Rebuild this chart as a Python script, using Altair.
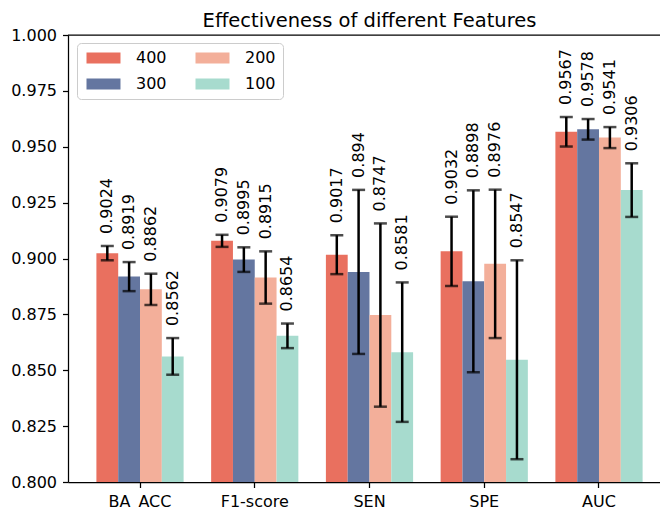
import altair as alt
import pandas as pd

metrics = ["BA_ACC", "F1-score", "SEN", "SPE", "AUC"]
groups = ["400", "300", "200", "100"]
colors = ["#E9705F", "#6476A0", "#F3AF9A", "#A7DBCE"]

values_400 = [0.9024, 0.9079, 0.9017, 0.9032, 0.9567]
values_300 = [0.8919, 0.8995, 0.894, 0.8898, 0.9578]
values_200 = [0.8862, 0.8915, 0.8747, 0.8976, 0.9541]
values_100 = [0.8562, 0.8654, 0.8581, 0.8547, 0.9306]

err_400 = [0.0032, 0.0027, 0.0087, 0.0155, 0.0066]
err_300 = [0.0065, 0.0055, 0.0367, 0.0407, 0.0046]
err_200 = [0.0070, 0.0117, 0.0410, 0.0332, 0.0047]
err_100 = [0.0082, 0.0055, 0.0312, 0.0445, 0.0120]

y_ticks = [0.8, 0.825, 0.85, 0.875, 0.9, 0.925, 0.95, 0.975, 1.0]
Y_MIN, Y_MAX = 0.8, 1.0

series = {"400": (values_400, err_400), "300": (values_300, err_300),
          "200": (values_200, err_200), "100": (values_100, err_100)}
rows = []
for g in groups:
    vals, errs = series[g]
    for m, v, e in zip(metrics, vals, errs):
        rows.append({"metric": m, "group": g, "value": v, "lo": v - e, "hi": v + e, "label": str(v)})
df = pd.DataFrame(rows)

FONT = "DejaVu Sans"
FS = 16

base = alt.Chart(df).encode(
    x=alt.X("metric:N", sort=metrics, title=None,
            scale=alt.Scale(paddingInner=0.24, paddingOuter=0.2475),
            axis=alt.Axis(labelAngle=0, labelFont=FONT, labelFontSize=FS, labelColor="black",
                          tickSize=5.5, tickWidth=1.25, tickColor="black", domainColor="black",
                          domainWidth=1.25, labelPadding=6, grid=False)),
    xOffset=alt.XOffset("group:N", sort=groups, scale=alt.Scale(domain=groups, paddingInner=0, paddingOuter=0)),
)

yscale = alt.Scale(domain=[Y_MIN, Y_MAX], zero=False, nice=False)

bars = base.mark_bar(clip=True).encode(
    y=alt.Y("value:Q", scale=yscale, title=None,
            axis=alt.Axis(values=y_ticks, format=".3f", labelFont=FONT, labelFontSize=FS,
                          labelColor="black", tickSize=5.5, tickWidth=1.25, tickColor="black",
                          domainColor="black", domainWidth=1.25, labelPadding=6, grid=False)),
    color=alt.Color("group:N", scale=alt.Scale(domain=groups, range=colors),
                    legend=alt.Legend(title=None, orient="none", legendX=9, legendY=8, columns=2,
                                      symbolType="M-1,-1H5.18V1H-1Z", symbolSize=121,
                                      symbolStrokeWidth=0, labelFont=FONT, labelFontSize=FS,
                                      labelColor="black", labelOffset=36, columnPadding=26,
                                      rowPadding=10, padding=7, strokeColor="#cccccc",
                                      cornerRadius=4, fillColor="white")),
)

rules = base.mark_rule(color="black", strokeWidth=2.5).encode(y="lo:Q", y2="hi:Q")
caps_lo = base.mark_tick(color="black", thickness=2.5, size=13).encode(y="lo:Q")
caps_hi = base.mark_tick(color="black", thickness=2.5, size=13).encode(y="hi:Q")
labels = base.mark_text(angle=270, align="left", baseline="middle", dx=12,
                        font=FONT, fontSize=FS, color="black").encode(y="hi:Q", text="label:N")

top = alt.Chart(pd.DataFrame({"y": [Y_MAX]})).mark_rule(color="black", strokeWidth=1.25).encode(
    y=alt.Y("y:Q", scale=yscale))

chart = alt.layer(bars, rules, caps_lo, caps_hi, labels, top).properties(
    width=603, height=447,
    title=alt.Title("Effectiveness of different Features", font=FONT, fontSize=19.5,
                    fontWeight="normal", color="black", anchor="middle", frame="group",
                    baseline="alphabetic", offset=-19),
    autosize=alt.AutoSizeParams(type="none"),
    padding={"left": 60, "top": 27, "right": -11, "bottom": 28},
).configure_view(stroke=None)

chart.save("out.html", embed_options={"renderer": "svg", "actions": False})
